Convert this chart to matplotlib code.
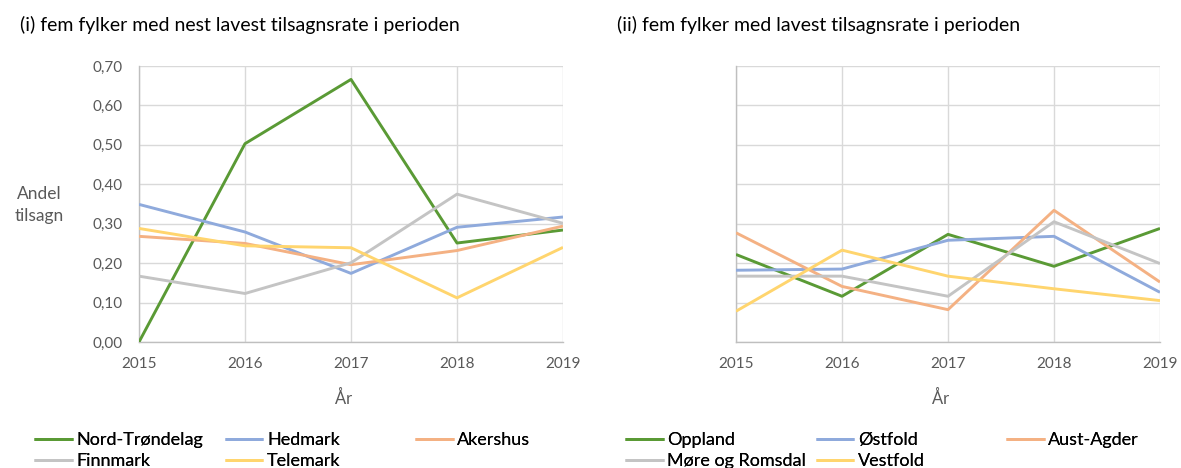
import numpy as np
import matplotlib.pyplot as plt
from matplotlib.ticker import FixedLocator

plt.rcParams['font.family'] = ['Lato', 'DejaVu Sans']

# Data
years = [2015, 2016, 2017, 2018, 2019]
y_ticks = [0.0, 0.1, 0.2, 0.3, 0.4, 0.5, 0.6, 0.7]
y_tick_labels = ['0,00', '0,10', '0,20', '0,30', '0,40', '0,50', '0,60', '0,70']

names_left = ['Nord-Trøndelag', 'Hedmark', 'Akershus', 'Finnmark', 'Telemark']
nord_trondelag = [0.000, 0.503, 0.666, 0.251, 0.284]
hedmark = [0.349, 0.279, 0.174, 0.291, 0.317]
akershus = [0.268, 0.250, 0.196, 0.232, 0.294]
finnmark = [0.167, 0.123, 0.201, 0.375, 0.301]
telemark = [0.288, 0.244, 0.239, 0.112, 0.240]

names_right = ['Oppland', 'Østfold', 'Aust-Agder', 'Møre og Romsdal', 'Vestfold']
oppland = [0.222, 0.116, 0.273, 0.192, 0.288]
ostfold = [0.182, 0.185, 0.258, 0.268, 0.126]
aust_agder = [0.277, 0.141, 0.082, 0.334, 0.152]
more_romsdal = [0.167, 0.167, 0.116, 0.305, 0.199]
vestfold = [0.078, 0.233, 0.167, 0.135, 0.105]

title_left = '(i) fem fylker med nest lavest tilsagnsrate i perioden'
title_right = '(ii) fem fylker med lavest tilsagnsrate i perioden'

colors = ['#5A9A35', '#8FAADC', '#F4B183', '#C4C4C4', '#FFD56E']

W, H = 1181, 468
fig = plt.figure(figsize=(W / 100, H / 100), dpi=100)
ax1 = fig.add_axes([139 / W, 1 - 342 / H, 424 / W, 276 / H])
ax2 = fig.add_axes([736 / W, 1 - 342 / H, 424 / W, 276 / H])


def tegn_panel(ax, serier, navn, vis_y):
    linjer = []
    for s, n, c in zip(serier, navn, colors):
        l, = ax.plot(years, s, color=c, lw=2.1, label=n, solid_capstyle='butt', zorder=3)
        linjer.append(l)
    ax.set_xlim(years[0], years[-1])
    ax.set_ylim(0, 0.7)
    ax.set_xticks(years)
    ax.set_xticklabels([str(y) for y in years], fontsize=11, color='#595959')
    ax.yaxis.set_major_locator(FixedLocator(y_ticks))
    if vis_y:
        ax.set_yticklabels(y_tick_labels, fontsize=11, color='#595959')
    else:
        ax.set_yticklabels([])
    ax.tick_params(axis='x', length=0, pad=11)
    ax.tick_params(axis='y', length=0, pad=12)
    ax.grid(True, color='#D9D9D9', lw=1)
    for side in ['top', 'right']:
        ax.spines[side].set_visible(False)
    for side in ['left', 'bottom']:
        ax.spines[side].set_color('#BFBFBF')
        ax.spines[side].set_linewidth(1)
    ax.set_xlabel('År', fontsize=12, color='#595959', va='center')
    ax.xaxis.set_label_coords(0.483, -56 / 276)
    return linjer


linjer1 = tegn_panel(ax1, [nord_trondelag, hedmark, akershus, finnmark, telemark], names_left, True)
linjer2 = tegn_panel(ax2, [oppland, ostfold, aust_agder, more_romsdal, vestfold], names_right, False)

fig.text(39 / W, 1 - 205 / H, 'Andel\ntilsagn', ha='center', va='center',
         fontsize=12.5, color='#595959', linespacing=1.4)
fig.text(20 / W, 1 - 25 / H, title_left, ha='left', va='center', fontsize=14)
fig.text(617 / W, 1 - 25 / H, title_right, ha='left', va='center', fontsize=14)

# legender, en per kolonne
for linjer, x0 in [(linjer1, 34), (linjer2, 625)]:
    for k in range(3):
        h = linjer[k::3]
        leg = fig.legend(h, [l.get_label() for l in h], loc='upper left',
                         bbox_to_anchor=((x0 + k * 190.5) / W, 1 - 432 / H),
                         frameon=False, fontsize=13, handlelength=2.15, handletextpad=0.2,
                         labelspacing=0.29, borderpad=0, borderaxespad=0)
        fig.add_artist(leg)

fig.savefig('out.png', dpi=100)
